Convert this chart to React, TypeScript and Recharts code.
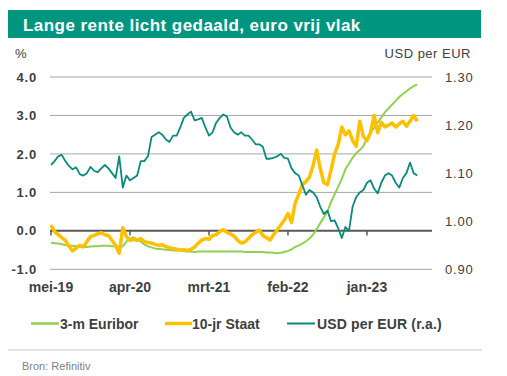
import React from "react";
import { LineChart, Line, XAxis, YAxis, ReferenceLine } from "recharts";

// Half-monthly observations, starting mei-2019
const euribor = [
  -0.31, -0.32, -0.33, -0.35, -0.37, -0.38, -0.39, -0.40, -0.41, -0.42,
  -0.42, -0.41, -0.40, -0.40, -0.39, -0.39, -0.39, -0.40, -0.41, -0.42,
  -0.40, -0.28, -0.20, -0.17, -0.22, -0.28, -0.35, -0.40, -0.43, -0.46,
  -0.47, -0.48, -0.49, -0.50, -0.51, -0.51, -0.52, -0.53, -0.54, -0.54,
  -0.55, -0.54, -0.54, -0.54, -0.54, -0.54, -0.54, -0.54, -0.54, -0.54,
  -0.54, -0.54, -0.54, -0.54, -0.55, -0.55, -0.55, -0.55, -0.55, -0.55,
  -0.56, -0.56, -0.57, -0.58, -0.57, -0.55, -0.52, -0.48, -0.42, -0.38,
  -0.33, -0.27, -0.20, -0.10, 0.05, 0.20, 0.35, 0.50, 0.75, 0.95,
  1.15, 1.35, 1.60, 1.75, 1.90, 2.02, 2.10, 2.20, 2.40, 2.55,
  2.68, 2.82, 2.95, 3.08, 3.18, 3.28, 3.38, 3.48, 3.56, 3.63,
  3.70, 3.76, 3.81,
];

const staat = [
  0.15, -0.02, -0.10, -0.18, -0.25, -0.40, -0.52, -0.45, -0.38, -0.42,
  -0.28, -0.15, -0.12, -0.08, -0.05, -0.10, -0.12, -0.25, -0.38, -0.58,
  0.08, -0.15, -0.25, -0.22, -0.25, -0.20, -0.28, -0.30, -0.32, -0.35,
  -0.38, -0.36, -0.41, -0.44, -0.46, -0.48, -0.50, -0.49, -0.51, -0.48,
  -0.42, -0.32, -0.24, -0.20, -0.22, -0.12, -0.10, -0.02, 0.03, -0.04,
  -0.08, -0.14, -0.25, -0.32, -0.29, -0.20, -0.10, -0.04, 0.02, -0.12,
  -0.18, -0.24, -0.10, 0.02, 0.15, 0.28, 0.45, 0.22, 0.72, 0.95,
  1.20, 1.28, 1.40, 1.70, 2.10, 1.62, 1.25, 1.20, 1.58, 2.00,
  2.25, 2.70, 2.50, 2.60, 2.35, 2.20, 2.85, 2.45, 2.35, 2.55,
  3.00, 2.55, 2.82, 2.70, 2.75, 2.80, 2.70, 2.78, 2.85, 2.72,
  2.85, 3.00, 2.85,
];

const usd = [
  1.117, 1.125, 1.135, 1.138, 1.125, 1.115, 1.108, 1.112, 1.098, 1.095,
  1.100, 1.113, 1.105, 1.102, 1.110, 1.117, 1.110, 1.100, 1.090, 1.135,
  1.070, 1.095, 1.085, 1.090, 1.095, 1.125, 1.125, 1.135, 1.175, 1.180,
  1.185, 1.180, 1.170, 1.165, 1.178, 1.178, 1.195, 1.215, 1.222, 1.228,
  1.210, 1.212, 1.215, 1.195, 1.178, 1.185, 1.205, 1.215, 1.222, 1.218,
  1.195, 1.185, 1.180, 1.185, 1.178, 1.178, 1.170, 1.160, 1.160, 1.155,
  1.130, 1.130, 1.132, 1.135, 1.140, 1.132, 1.130, 1.110, 1.100, 1.095,
  1.075, 1.055, 1.065, 1.060, 1.050, 1.030, 1.015, 1.022, 1.000, 1.002,
  0.985, 0.965, 0.988, 0.980, 1.030, 1.050, 1.060, 1.065, 1.080, 1.085,
  1.068, 1.058, 1.080, 1.095, 1.100, 1.095, 1.080, 1.070, 1.090, 1.100,
  1.122, 1.100, 1.095,
];

const xTicks = [0, 11, 22, 33, 44];
const xTickLabels = ["mei-19", "apr-20", "mrt-21", "feb-22", "jan-23"];
const leftTicks = [-1, 0, 1, 2, 3, 4];
const rightTicks = [0.9, 1.0, 1.1, 1.2, 1.3];

const rows = euribor.map((_, i) => ({
  m: i / 2,
  euribor: euribor[i],
  staat: staat[i],
  usd: usd[i],
}));

const FONT = "'Liberation Sans', Arial, sans-serif";
const GREEN = "#92d050";
const YELLOW = "#ffc000";
const TEAL = "#0a8a7c";
const TEXT = "#404040";

export default function App() {
  return (
    <div
      style={{
        position: "absolute",
        left: 0,
        top: 0,
        width: 507,
        height: 376,
        background: "#ffffff",
        fontFamily: FONT,
      }}
    >
      <svg width={507} height={376} style={{ position: "absolute", left: 0, top: 0 }}>
        <rect x={8} y={10} width={473} height={28} fill="#00957f" />
        <text x={23} y={30.5} fill="#ffffff" fontSize={17} fontWeight="bold" letterSpacing={0.45} fontFamily={FONT}>
          Lange rente licht gedaald, euro vrij vlak
        </text>
        <text x={15} y={58} fill={TEXT} fontSize={13} fontFamily={FONT}>%</text>
        <text x={471} y={58} fill={TEXT} fontSize={13} letterSpacing={0.5} textAnchor="end" fontFamily={FONT}>
          USD per EUR
        </text>
        {/* legend */}
        <line x1={31} x2={59} y1={323.5} y2={323.5} stroke={GREEN} strokeWidth={2.5} />
        <text x={60} y={329} fill={TEXT} fontSize={14} fontWeight="bold" fontFamily={FONT}>3-m Euribor</text>
        <line x1={165} x2={192} y1={323.5} y2={323.5} stroke={YELLOW} strokeWidth={3.5} />
        <text x={192} y={329} fill={TEXT} fontSize={14} fontWeight="bold" fontFamily={FONT}>10-jr Staat</text>
        <line x1={287} x2={315} y1={323.5} y2={323.5} stroke={TEAL} strokeWidth={2} />
        <text x={317} y={329} fill={TEXT} fontSize={14} fontWeight="bold" letterSpacing={0.15} fontFamily={FONT}>
          USD per EUR (r.a.)
        </text>
        <line x1={8} x2={482} y1={350} y2={350} stroke="#c8c8c8" strokeWidth={1} />
        <text x={22} y={369.5} fill="#808080" fontSize={11} fontFamily={FONT}>Bron: Refinitiv</text>
      </svg>
      <div style={{ position: "absolute", left: 0, top: 0 }}>
        <LineChart
          width={507}
          height={300}
          data={rows}
          margin={{ top: 77, right: 5, bottom: 5.7, left: 5 }}
        >
          <XAxis
            dataKey="m"
            type="number"
            domain={[-0.14, 53.06]}
            allowDataOverflow
            ticks={xTicks}
            tickFormatter={(v: number) => xTickLabels[xTicks.indexOf(v)] ?? ""}
            axisLine={false}
            tickLine={false}
            tickMargin={7}
            height={25}
            interval={0}
            tick={{ fill: TEXT, fontSize: 14, fontWeight: "bold", fontFamily: FONT }}
          />
          <YAxis
            yAxisId="left"
            domain={[-1, 4]}
            ticks={leftTicks}
            allowDataOverflow
            tickFormatter={(v: number) => v.toFixed(1)}
            axisLine={false}
            tickLine={false}
            tickMargin={7}
            width={45}
            interval={0}
            tick={{ fill: TEXT, fontSize: 13, fontWeight: "bold", fontFamily: FONT, letterSpacing: 0.8 }}
          />
          <YAxis
            yAxisId="right"
            orientation="right"
            domain={[0.9, 1.3]}
            ticks={rightTicks}
            allowDataOverflow
            tickFormatter={(v: number) => v.toFixed(2)}
            axisLine={false}
            tickLine={false}
            tickMargin={7}
            width={70}
            interval={0}
            tick={{ fill: TEXT, fontSize: 13, fontFamily: FONT, letterSpacing: 0.8, textAnchor: "start" }}
          />
          {[4, 3, 2, 1, -1].map((v) => (
            <ReferenceLine key={v} yAxisId="left" y={v} stroke="#a6a6a6" strokeWidth={1} />
          ))}
          <ReferenceLine yAxisId="left" y={0} stroke="#595959" strokeWidth={2} />
          {xTicks.map((m) => (
            <ReferenceLine
              key={"t" + m}
              yAxisId="left"
              segment={[
                { x: m, y: 0 },
                { x: m, y: -0.12 },
              ]}
              stroke="#595959"
              strokeWidth={1.5}
            />
          ))}
          <Line
            yAxisId="left"
            dataKey="euribor"
            stroke={GREEN}
            strokeWidth={2}
            dot={false}
            isAnimationActive={false}
          />
          <Line
            yAxisId="left"
            dataKey="staat"
            stroke={YELLOW}
            strokeWidth={3.5}
            strokeLinejoin="round"
            dot={false}
            isAnimationActive={false}
          />
          <Line
            yAxisId="right"
            dataKey="usd"
            stroke={TEAL}
            strokeWidth={1.8}
            strokeLinejoin="round"
            dot={false}
            isAnimationActive={false}
          />
        </LineChart>
      </div>
    </div>
  );
}
